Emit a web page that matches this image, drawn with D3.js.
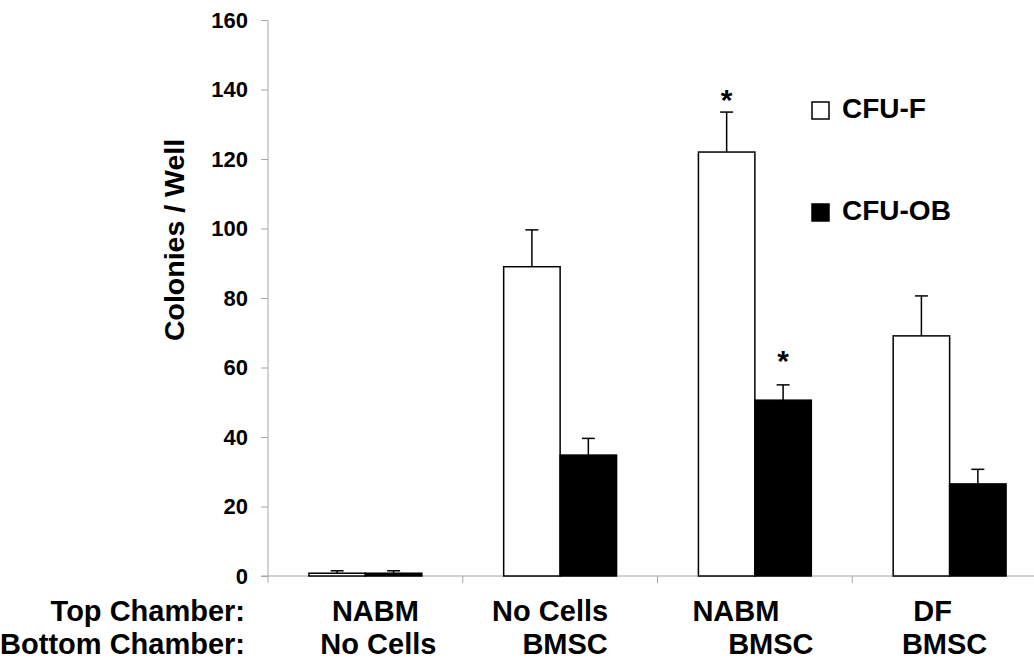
<!DOCTYPE html>
<html>
<head>
<meta charset="utf-8">
<script src="https://cdn.jsdelivr.net/npm/d3@7"></script>
<style>
  html, body { margin: 0; padding: 0; background: #fff; }
  svg { display: block; font-family: "Liberation Sans", Arial, sans-serif; font-weight: bold; }
</style>
</head>
<body>
<svg id="chart" width="1034" height="662"></svg>
<script>
// ---- data ----
const groups = ["g1", "g2", "g3", "g4"];
const topChamber = ["NABM", "No Cells", "NABM", "DF"];
const bottomChamber = ["No Cells", "BMSC", "BMSC", "BMSC"];
const series = ["CFU-F", "CFU-OB"];
const cfuF = [0.8, 89.0, 122.0, 69.1];
const cfuFErr = [0.7, 10.6, 11.5, 11.5];
const cfuOB = [0.8, 34.8, 50.6, 26.5];
const cfuOBErr = [0.7, 4.8, 4.4, 4.2];
const significant = [
  { group: "g3", series: "CFU-F" },
  { group: "g3", series: "CFU-OB" }
];
const yTicks = [0, 20, 40, 60, 80, 100, 120, 140, 160];

// ---- layout / style ----
const svg = d3.select("#chart");
const x0 = d3.scaleBand().domain(groups).range([268, 1047]).paddingInner(0).paddingOuter(0);
const x1 = d3.scaleBand().domain(series).range([0, x0.bandwidth()]).paddingInner(0).paddingOuter(0.725);
const y = d3.scaleLinear().domain([0, 160]).range([576, 20]);
const fills = { "CFU-F": "#ffffff", "CFU-OB": "#000000" };
const axisColor = "#a6a6a6";
const topNudge = [10, -10, -19, -17];
const bottomNudge = [13, 5, 16, -5];
const starOffset = { "CFU-F": -2, "CFU-OB": -14 };

const rows = [];
groups.forEach((g, i) => {
  rows.push({ group: g, series: "CFU-F", value: cfuF[i], err: cfuFErr[i] });
  rows.push({ group: g, series: "CFU-OB", value: cfuOB[i], err: cfuOBErr[i] });
});

// y axis
const yAxis = svg.append("g")
  .attr("transform", `translate(${x0.range()[0]},0)`)
  .call(d3.axisLeft(y).tickValues(yTicks).tickSize(7).tickPadding(13).tickSizeOuter(0));
yAxis.select(".domain").attr("stroke", axisColor).attr("d", `M0,${y(160)}V${y(0)}`);
yAxis.selectAll(".tick line").attr("stroke", axisColor);
yAxis.selectAll(".tick text")
  .attr("fill", "#000").style("font-size", "22px").style("font-weight", "bold")
  .style("font-family", "'Liberation Sans', Arial, sans-serif");

// x axis baseline with group boundary ticks
const xAxisG = svg.append("g");
xAxisG.append("line")
  .attr("x1", x0.range()[0] - 7).attr("x2", 1034)
  .attr("y1", y(0)).attr("y2", y(0))
  .attr("stroke", axisColor).attr("stroke-width", 1);
xAxisG.selectAll("line.bt")
  .data(groups)
  .join("line")
  .attr("class", "bt")
  .attr("x1", d => x0(d)).attr("x2", d => x0(d))
  .attr("y1", y(0)).attr("y2", y(0) + 7)
  .attr("stroke", axisColor).attr("stroke-width", 1);

// bars
const gGroups = svg.append("g").selectAll("g")
  .data(groups)
  .join("g")
  .attr("transform", d => `translate(${x0(d)},0)`);

gGroups.selectAll("rect")
  .data(g => rows.filter(r => r.group === g))
  .join("rect")
  .attr("x", d => x1(d.series))
  .attr("y", d => y(d.value))
  .attr("width", x1.bandwidth())
  .attr("height", d => y(0) - y(d.value))
  .attr("fill", d => fills[d.series])
  .attr("stroke", "#000")
  .attr("stroke-width", 1.5);

// error bars (upper only)
const capW = 13;
gGroups.each(function(g) {
  const sel = d3.select(this);
  rows.filter(r => r.group === g).forEach(d => {
    const cx = x1(d.series) + x1.bandwidth() / 2;
    sel.append("line")
      .attr("x1", cx).attr("x2", cx)
      .attr("y1", y(d.value)).attr("y2", y(d.value + d.err))
      .attr("stroke", "#000").attr("stroke-width", 1.5);
    sel.append("line")
      .attr("x1", cx - capW / 2).attr("x2", cx + capW / 2)
      .attr("y1", y(d.value + d.err)).attr("y2", y(d.value + d.err))
      .attr("stroke", "#000").attr("stroke-width", 1.5);
  });
});

// significance asterisks
svg.append("g").selectAll("text")
  .data(significant)
  .join("text")
  .attr("x", d => x0(d.group) + x1(d.series) + x1.bandwidth() / 2)
  .attr("y", d => {
    const r = rows.find(q => q.group === d.group && q.series === d.series);
    return y(r.value + r.err) + starOffset[d.series];
  })
  .attr("text-anchor", "middle")
  .style("font-size", "30px")
  .style("font-weight", "bold")
  .text("*");

// y axis title
svg.append("text")
  .attr("transform", `translate(184,${240}) rotate(-90)`)
  .attr("text-anchor", "middle")
  .style("font-size", "28.5px")
  .text("Colonies / Well");

// category labels
const labelSize = "29px";
svg.append("text").attr("x", 245).attr("y", 621).attr("text-anchor", "end")
  .style("font-size", labelSize).text("Top Chamber:");
svg.append("text").attr("x", 245).attr("y", 654).attr("text-anchor", "end")
  .style("font-size", labelSize).text("Bottom Chamber:");

svg.append("g").selectAll("text")
  .data(groups)
  .join("text")
  .attr("x", (d, i) => x0(d) + x0.bandwidth() / 2 + topNudge[i])
  .attr("y", 621)
  .attr("text-anchor", "middle")
  .style("font-size", labelSize)
  .text((d, i) => topChamber[i]);

svg.append("g").selectAll("text")
  .data(groups)
  .join("text")
  .attr("x", (d, i) => x0(d) + x0.bandwidth() / 2 + bottomNudge[i])
  .attr("y", 654)
  .attr("text-anchor", "middle")
  .style("font-size", labelSize)
  .text((d, i) => bottomChamber[i]);

// legend
const legend = svg.append("g").selectAll("g")
  .data(series)
  .join("g")
  .attr("transform", (d, i) => `translate(812,${102 + i * 102})`);
legend.append("rect")
  .attr("width", 17).attr("height", 17)
  .attr("fill", d => fills[d]).attr("stroke", "#000").attr("stroke-width", 1.5);
legend.append("text")
  .attr("x", 30).attr("y", 16)
  .style("font-size", "28px")
  .text(d => d);
</script>
</body>
</html>
